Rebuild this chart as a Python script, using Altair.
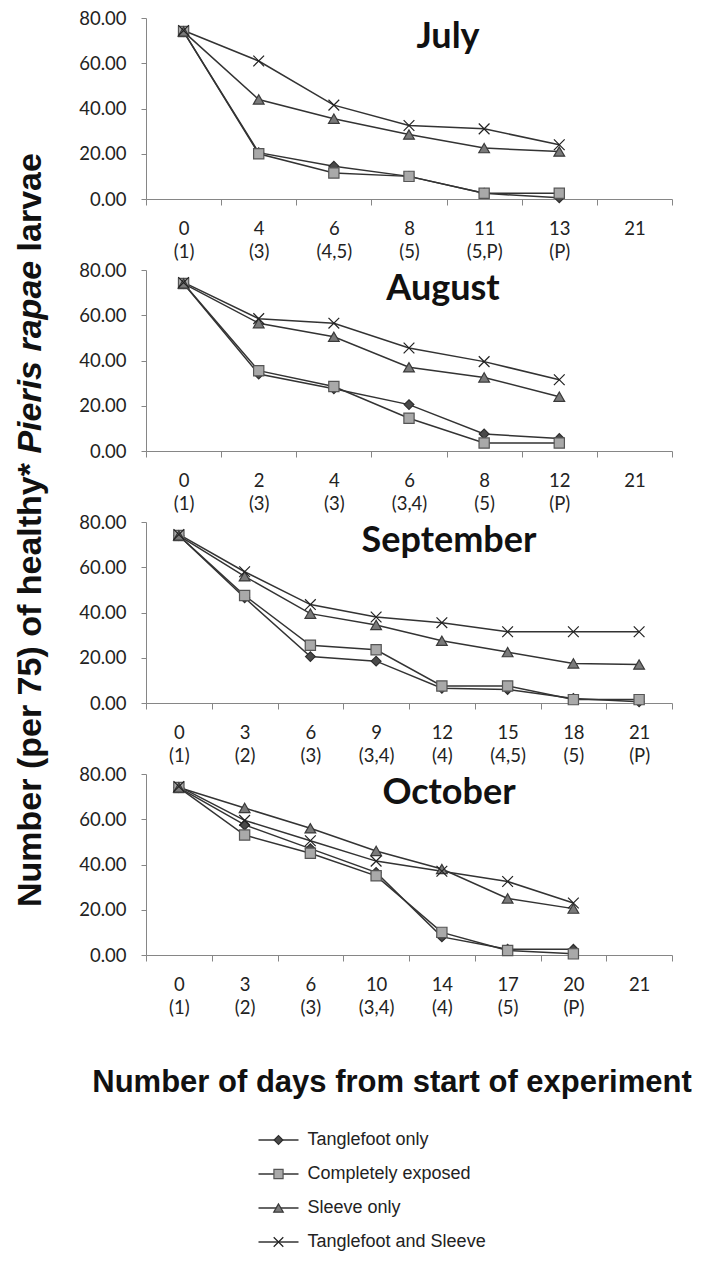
import altair as alt
import pandas as pd

# ---------------- data ----------------
series = ["Tanglefoot only", "Completely exposed", "Sleeve only", "Tanglefoot and Sleeve"]

jul_days = ["0", "4", "6", "8", "11", "13", "21"]
jul_stage = ["(1)", "(3)", "(4,5)", "(5)", "(5,P)", "(P)", ""]
jul_tanglefoot = [74, 20.5, 14.5, 10, 2.5, 0.5]
jul_exposed = [74, 20, 11.5, 10, 2.5, 2.5]
jul_sleeve = [74, 44, 35.5, 28.5, 22.5, 21]
jul_both = [74.5, 61, 41.5, 32.5, 31, 24]

aug_days = ["0", "2", "4", "6", "8", "12", "21"]
aug_stage = ["(1)", "(3)", "(3)", "(3,4)", "(5)", "(P)", ""]
aug_tanglefoot = [74, 34, 27.5, 20.5, 7.5, 5.5]
aug_exposed = [74, 35.5, 28.5, 14.5, 3.5, 3.5]
aug_sleeve = [74, 56.5, 50.5, 37, 32.5, 24]
aug_both = [74.5, 58.5, 56.5, 45.5, 39.5, 31.5]

sep_days = ["0", "3", "6", "9", "12", "15", "18", "21"]
sep_stage = ["(1)", "(2)", "(3)", "(3,4)", "(4)", "(4,5)", "(5)", "(P)"]
sep_tanglefoot = [74, 46.5, 20.5, 18.5, 6.5, 6, 2, 0.5]
sep_exposed = [74, 47.5, 25.5, 23.5, 7.5, 7.5, 1.5, 1.5]
sep_sleeve = [74, 56, 39.5, 34.5, 27.5, 22.5, 17.5, 17]
sep_both = [74.5, 58, 43.5, 38, 35.5, 31.5, 31.5, 31.5]

oct_days = ["0", "3", "6", "10", "14", "17", "20", "21"]
oct_stage = ["(1)", "(2)", "(3)", "(3,4)", "(4)", "(5)", "(P)", ""]
oct_tanglefoot = [74, 57.5, 47, 36.5, 8, 2.5, 2.5]
oct_exposed = [74, 53, 45, 35, 10, 2, 0.5]
oct_sleeve = [74, 65, 56, 46, 38, 25, 20.5]
oct_both = [74.5, 59.5, 50.5, 41.5, 37, 32.5, 23]

y_ticks = [0, 20, 40, 60, 80]

# ---------------- styling ----------------
W, H = 526, 181
AX = "#868686"
LINE = "#333333"
TXT = "#222222"
TICK_FONT = "Lato"
BIG_FONT = "Liberation Sans"

styles = {
    "Tanglefoot only": dict(shape="diamond", size=95, fill="#4a4a4a", stroke="#2e2e2e", filled=True),
    "Completely exposed": dict(shape="square", size=105, fill="#a9a9a9", stroke="#555555", filled=True),
    "Sleeve only": dict(shape="triangle-up", size=115, fill="#7a7a7a", stroke="#3a3a3a", filled=True),
    "Tanglefoot and Sleeve": dict(shape="M-1,-1L1,1M-1,1L1,-1", size=115, fill="#222222", stroke="#222222", filled=False),
}


def panel(title, days, stages, vals, title_x, extra=None):
    cats = [f"{d}|{s}" for d, s in zip(days, stages)]
    rows = []
    for s, v in zip(series, vals):
        for i, val in enumerate(v):
            rows.append({"cat": cats[i], "series": s, "value": val, "order": i})
    df = pd.DataFrame(rows)
    base = alt.Chart(df)
    x = alt.X(
        "cat:N",
        sort=cats,
        scale=alt.Scale(type="band", domain=cats, paddingInner=0, paddingOuter=0),
        axis=alt.Axis(
            title=None,
            labelExpr="split(datum.label, '|')",
            labelAngle=0,
            labelFont=TICK_FONT,
            labelFontSize=18.5,
            labelColor=TXT,
            labelLineHeight=23,
            labelPadding=14,
            labelOverlap=False,
            tickBand="extent",
            tickSize=6,
            tickColor=AX,
            domainColor=AX,
            grid=False,
        ),
    )
    y = alt.Y(
        "value:Q",
        scale=alt.Scale(domain=[0, 80], nice=False, zero=True),
        axis=alt.Axis(
            title=None,
            values=y_ticks,
            format=".2f",
            labelFont=TICK_FONT,
            labelFontSize=18.5,
            labelColor=TXT,
            labelPadding=15,
            tickSize=5,
            tickColor=AX,
            domainColor=AX,
            grid=False,
        ),
    )
    layers = [
        base.mark_line(color=LINE, strokeWidth=1.5).encode(
            x=x, y=y, detail="series:N", order="order:Q"
        )
    ]
    for s in series:
        st = styles[s]
        layers.append(
            base.transform_filter(alt.datum.series == s)
            .mark_point(
                shape=st["shape"], size=st["size"], filled=st["filled"],
                fill=st["fill"], stroke=st["stroke"], strokeWidth=1.2, opacity=1,
            )
            .encode(x=x, y=y)
        )
    layers.append(
        alt.Chart(pd.DataFrame({"t": [title]}))
        .mark_text(font="Lato", fontWeight="bold", fontSize=36, color="#111111",
                   align="center", baseline="alphabetic")
        .encode(x=alt.value(title_x), y=alt.value(30), text="t:N")
    )
    if extra:
        layers.extend(extra)
    return alt.layer(*layers).properties(width=W, height=H)


# y title (three pieces, reading bottom to top) + layout anchor, placed in the July panel
ytitle_x = -115.5
YT_SIZE = 34
yt1 = alt.Chart(pd.DataFrame({"t": ["Number (per 75) of healthy*"]})).mark_text(
    font=BIG_FONT, fontWeight="bold", fontSize=YT_SIZE, angle=270, align="left",
    baseline="middle", color="#111111"
).encode(x=alt.value(ytitle_x), y=alt.value(889), text="t:N")
yt2 = alt.Chart(pd.DataFrame({"t": ["Pieris rapae"]})).mark_text(
    font=BIG_FONT, fontWeight="bold", fontStyle="italic", fontSize=YT_SIZE, angle=270,
    align="left", baseline="middle", color="#111111"
).encode(x=alt.value(ytitle_x), y=alt.value(435.6), text="t:N")
yt3 = alt.Chart(pd.DataFrame({"t": ["larvae"]})).mark_text(
    font=BIG_FONT, fontWeight="bold", fontSize=YT_SIZE, angle=270, align="left",
    baseline="middle", color="#111111"
).encode(x=alt.value(ytitle_x), y=alt.value(233.4), text="t:N")
anchor = alt.Chart(pd.DataFrame({"a": [0]})).mark_rule(color="white", strokeWidth=1).encode(
    x=alt.value(-137), y=alt.value(-9), y2=alt.value(-8)
)

july = panel("July", jul_days, jul_stage,
             [jul_tanglefoot, jul_exposed, jul_sleeve, jul_both], 302,
             extra=[yt1, yt2, yt3, anchor])
august = panel("August", aug_days, aug_stage,
               [aug_tanglefoot, aug_exposed, aug_sleeve, aug_both], 297)
september = panel("September", sep_days, sep_stage,
                  [sep_tanglefoot, sep_exposed, sep_sleeve, sep_both], 303)
october = panel("October", oct_days, oct_stage,
                [oct_tanglefoot, oct_exposed, oct_sleeve, oct_both], 303)

# ---------------- bottom: x title + legend ----------------
leg_df = pd.DataFrame({"series": series})
leg_y = alt.Y("series:N", sort=series,
              scale=alt.Scale(type="point", domain=series, range=[114, 216], padding=0),
              axis=None)
leg_layers = [
    alt.Chart(pd.DataFrame({"t": ["Number of days from start of experiment"]}))
    .mark_text(font=BIG_FONT, fontWeight="bold", fontSize=31, color="#111111",
               align="center", baseline="middle")
    .encode(x=alt.value(246), y=alt.value(57), text="t:N"),
    alt.Chart(leg_df).mark_rule(color=LINE, strokeWidth=1.4).encode(
        x=alt.value(112.5), x2=alt.value(152.5), y=leg_y
    ),
]
for s in series:
    st = styles[s]
    leg_layers.append(
        alt.Chart(leg_df).transform_filter(alt.datum.series == s)
        .mark_point(shape=st["shape"], size=st["size"] * 0.8, filled=st["filled"],
                    fill=st["fill"], stroke=st["stroke"], strokeWidth=1.2, opacity=1)
        .encode(x=alt.value(132.5), y=leg_y)
    )
leg_layers.append(
    alt.Chart(leg_df).mark_text(font="Liberation Sans", fontSize=18, color="#222222",
                                align="left", baseline="middle")
    .encode(x=alt.value(161.5), y=leg_y, text="series:N")
)
bottom = alt.layer(*leg_layers).properties(width=W, height=220)

chart = (
    alt.vconcat(july, august, september, october, bottom, spacing=71, bounds="flush")
    .properties(padding=0, background="white")
    .configure_view(stroke=None)
)

chart.save("out.html", embed_options={"renderer": "svg", "actions": False})
